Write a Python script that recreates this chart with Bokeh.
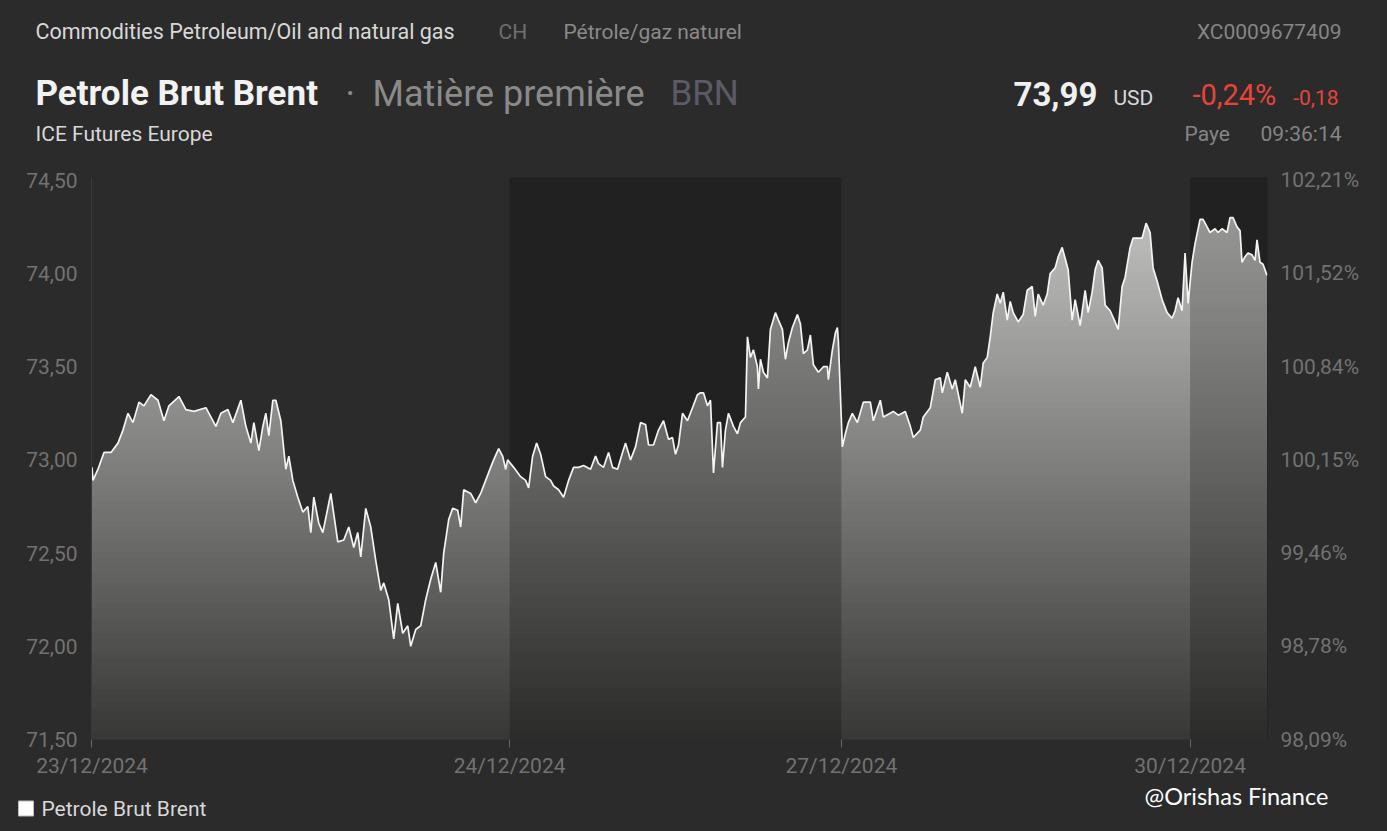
import numpy as np
from bokeh.plotting import figure
from bokeh.layouts import column
from bokeh.models import Range1d, LinearAxis, FixedTicker, GlobalInlineStyleSheet
from bokeh.core.properties import value
from bokeh.embed import file_html
from bokeh.resources import INLINE

# ---------------- data ----------------
day_labels = ["23/12/2024", "24/12/2024", "27/12/2024", "30/12/2024"]
day_start_bar = [0, 418, 750, 1099]

bar_23 = [0, 1, 6, 12, 19, 26, 31, 36, 41, 47, 52, 59, 66, 72, 77, 87, 94, 102, 114, 124,
          129, 136, 141, 149, 154, 159, 162, 167, 171, 174, 177, 181, 184, 189, 194, 197, 201,
          206, 211, 216, 219, 222, 227, 231, 239, 246, 252, 257, 262, 266, 269, 274, 279, 284,
          289, 292, 297, 302, 306, 311, 316, 319, 324, 329, 334, 339, 344, 349, 352, 357, 361,
          366, 369, 372, 379, 384, 389, 394, 399, 402, 407, 411, 414, 416]
price_23 = [72.96, 72.89, 72.95, 73.04, 73.04, 73.09, 73.16, 73.25, 73.20, 73.31, 73.29, 73.35,
            73.32, 73.21, 73.29, 73.34, 73.27, 73.26, 73.28, 73.18, 73.25, 73.27, 73.20, 73.32,
            73.18, 73.09, 73.20, 73.05, 73.18, 73.25, 73.13, 73.32, 73.32, 73.21, 72.95, 73.02,
            72.89, 72.80, 72.72, 72.75, 72.61, 72.80, 72.66, 72.61, 72.82, 72.56, 72.57, 72.64,
            72.53, 72.61, 72.48, 72.74, 72.64, 72.46, 72.30, 72.34, 72.25, 72.04, 72.23, 72.07,
            72.11, 72.00, 72.09, 72.11, 72.25, 72.36, 72.45, 72.29, 72.50, 72.68, 72.74, 72.73,
            72.64, 72.84, 72.82, 72.77, 72.82, 72.89, 72.96, 73.00, 73.06, 73.02, 72.95, 73.00]

bar_24 = [422, 429, 434, 437, 441, 445, 449, 454, 459, 462, 467, 472, 477, 482, 487, 492, 499,
          504, 507, 512, 517, 521, 526, 531, 534, 539, 544, 549, 554, 557, 562, 567, 572, 577,
          581, 584, 587, 591, 596, 601, 606, 609, 612, 616, 619, 622, 626, 629, 631, 634, 637,
          642, 646, 649, 654, 656, 659, 662, 666, 667, 669, 672, 676, 679, 684, 687, 691, 694,
          697, 701, 706, 709, 712, 716, 719, 722, 727, 732, 736, 737, 741, 744, 746, 747]
price_24 = [72.96, 72.91, 72.89, 72.85, 73.02, 73.09, 73.03, 72.91, 72.89, 72.86, 72.84, 72.80,
            72.89, 72.96, 72.96, 72.97, 72.95, 73.02, 72.98, 72.96, 73.04, 72.96, 72.95, 73.04,
            73.09, 73.00, 73.07, 73.20, 73.19, 73.08, 73.08, 73.16, 73.21, 73.11, 73.12, 73.03,
            73.08, 73.25, 73.21, 73.28, 73.35, 73.36, 73.36, 73.29, 73.32, 72.93, 73.20, 73.20,
            72.96, 73.16, 73.25, 73.18, 73.14, 73.20, 73.23, 73.66, 73.55, 73.59, 73.50, 73.38,
            73.54, 73.47, 73.44, 73.70, 73.79, 73.75, 73.70, 73.54, 73.63, 73.71, 73.78, 73.73,
            73.57, 73.59, 73.67, 73.51, 73.47, 73.50, 73.50, 73.43, 73.59, 73.68, 73.71, 73.64]

bar_27 = [751, 754, 757, 761, 766, 772, 779, 782, 789, 792, 802, 807, 814, 819, 822, 829, 832,
          839, 844, 849, 851, 856, 861, 864, 871, 874, 879, 884, 889, 892, 896, 899, 902, 906,
          909, 912, 916, 919, 922, 927, 932, 936, 941, 944, 947, 952, 956, 959, 964, 967, 971,
          974, 977, 981, 984, 989, 994, 997, 1001, 1004, 1007, 1011, 1014, 1019, 1024, 1027,
          1031, 1034, 1039, 1042, 1047, 1051, 1055, 1059, 1062, 1066, 1071, 1076, 1081, 1084,
          1087, 1091, 1094, 1097]
price_27 = [73.07, 73.14, 73.20, 73.25, 73.20, 73.31, 73.31, 73.21, 73.32, 73.23, 73.26, 73.24,
            73.26, 73.18, 73.12, 73.16, 73.23, 73.28, 73.43, 73.44, 73.36, 73.47, 73.38, 73.43,
            73.25, 73.43, 73.39, 73.50, 73.39, 73.52, 73.55, 73.66, 73.79, 73.89, 73.84, 73.90,
            73.75, 73.85, 73.79, 73.74, 73.78, 73.91, 73.93, 73.77, 73.89, 73.83, 73.89, 74.00,
            74.03, 74.09, 74.14, 74.08, 74.02, 73.75, 73.86, 73.72, 73.91, 73.79, 73.90, 74.02,
            74.07, 74.03, 73.83, 73.80, 73.74, 73.70, 73.93, 73.98, 74.14, 74.19, 74.19, 74.19,
            74.27, 74.22, 74.03, 73.96, 73.86, 73.79, 73.76, 73.80, 73.87, 73.80, 74.11, 73.84]

bar_30 = [1101, 1104, 1109, 1112, 1116, 1119, 1124, 1127, 1131, 1136, 1139, 1142, 1146, 1149,
          1151, 1154, 1157, 1161, 1164, 1166, 1169, 1172, 1176]
price_30 = [74.06, 74.16, 74.29, 74.29, 74.25, 74.22, 74.24, 74.22, 74.24, 74.22, 74.30, 74.30,
            74.25, 74.23, 74.06, 74.09, 74.11, 74.10, 74.07, 74.18, 74.06, 74.05, 73.99]

price_ticks = [71.5, 72.0, 72.5, 73.0, 73.5, 74.0, 74.5]
price_tick_labels = ["71,50", "72,00", "72,50", "73,00", "73,50", "74,00", "74,50"]
pct_tick_labels = ["98,09%", "98,78%", "99,46%", "100,15%", "100,84%", "101,52%", "102,21%"]

bar = bar_23 + bar_24 + bar_27 + bar_30
price = price_23 + price_24 + price_27 + price_30
assert len(bar) == len(price)

# ---------------- layout / style ----------------
BG = "#2b2b2b"
W = 1387
HEAD_H = 150           # header strip
MAIN_H = 630           # chart strip (page y 150..780)
FOOT_H = 51            # footer strip (page y 780..831)
FRAME_TOP, FRAME_BOTTOM = 177, 740   # page pixels
FRAME_LEFT, FRAME_RIGHT = 91, 1267
Y0, Y1 = 71.5, 74.515
AXIS_COLOR = "#727272"


def strip(height):
    f = figure(width=W, height=height, output_backend="svg", toolbar_location=None,
               x_range=Range1d(0, W), y_range=Range1d(height, 0),
               x_axis_type=None, y_axis_type=None,
               min_border=0, min_border_left=0, min_border_right=0,
               min_border_top=0, min_border_bottom=0,
               background_fill_color=BG, border_fill_color=BG, outline_line_color=None)
    f.grid.visible = False
    f.frame_align = False
    return f


def txt(f, s, x, y, size, color, align="left", style="normal", font="Roboto"):
    f.text(x=[x], y=[y], text=[s], text_font=value(font), text_font_size=f"{size}px",
           text_color=color, text_align=align, text_baseline="middle",
           text_font_style=style)


# ---- header ----
head = strip(HEAD_H)
txt(head, "Commodities Petroleum/Oil and natural gas", 35, 31, 21.5, "#d8d8d8")
txt(head, "CH", 498, 31, 21, "#6f6f6f")
txt(head, "Pétrole/gaz naturel", 563, 31, 21, "#8a8a8a")
txt(head, "XC0009677409", 1341, 31, 21, "#858585", align="right")
txt(head, "Petrole Brut Brent", 35, 93, 35, "#f2f2f2", style="bold")
txt(head, "·", 345, 93, 36, "#8a8a8a")
txt(head, "Matière première", 372, 93, 36, "#8a8a8a")
txt(head, "BRN", 670, 93, 35, "#5c5a68")
txt(head, "73,99", 1013, 93, 33, "#f0f0f0", style="bold")
txt(head, "USD", 1113, 97, 21, "#d8d8d8")
txt(head, "-0,24%", 1192, 94, 29, "#e8433a")
txt(head, "-0,18", 1338, 97, 21, "#e8433a", align="right")
txt(head, "ICE Futures Europe", 35, 133, 21, "#d8d8d8")
txt(head, "Paye", 1184, 133, 21, "#858585")
txt(head, "09:36:14", 1341, 133, 21, "#858585", align="right")
head.stylesheets = [GlobalInlineStyleSheet(css="html, body { background-color: #2b2b2b; }")]

# ---- chart ----
p = figure(width=W, height=MAIN_H, output_backend="svg", toolbar_location=None,
           x_range=Range1d(bar[0] - 0.5, bar[-1] + 0.5), y_range=Range1d(Y0, Y1),
           min_border_left=FRAME_LEFT, min_border_right=W - FRAME_RIGHT,
           min_border_top=FRAME_TOP - HEAD_H,
           min_border_bottom=HEAD_H + MAIN_H - FRAME_BOTTOM,
           background_fill_color=BG, border_fill_color=BG, outline_line_color=None)
p.grid.visible = False
p.frame_align = False

# gradient fill under the curve: stacked bands, then a mask above the curve
n = 90
levels = np.linspace(Y0, Y1, n, endpoint=False)
cols = []
for lv in levels:
    t = (lv - Y0) / (Y1 - Y0)
    g = int(round(56 + t * (202 - 56)))
    cols.append("#%02x%02x%02x" % (g, g, max(g - 2, 0)))
p.quad(left=bar[0], right=bar[-1], bottom=Y0 - 0.05, top=Y1 - 0.012,
       fill_color=cols[0], line_color=None)
p.quad(left=bar[0], right=bar[-1], bottom=levels[1:], top=Y1 - 0.012,
       fill_color=cols[1:], line_color=None)
mask_x = [bar[0] - 20] + bar + [bar[-1] + 20]
mask_y = [price[0]] + price + [Y0 - 1]
p.varea(x=mask_x, y1=mask_y, y2=Y1 + 1, fill_color=BG)

# darker session bands (alternate days)
band_left, band_right = [], []
ends = day_start_bar[1:] + [bar[-1] + 20]
for i, (s, e) in enumerate(zip(day_start_bar, ends)):
    if i % 2 == 1:
        band_left.append(s)
        band_right.append(e)
p.quad(left=band_left, right=band_right, bottom=Y0 - 1, top=Y1 + 1,
       fill_color="black", fill_alpha=0.21, line_color=None)

p.line(bar, price, line_color="#f4f4f4", line_width=1.7)

xa = p.xaxis[0]
xa.ticker = FixedTicker(ticks=day_start_bar)
xa.major_label_overrides = {b: l for b, l in zip(day_start_bar, day_labels)}
xa.axis_line_color = None
xa.major_tick_line_color = "#666666"
xa.major_tick_in = 0
xa.major_tick_out = 8
xa.minor_tick_line_color = None
xa.major_label_standoff = 6
xa.major_label_text_color = AXIS_COLOR
xa.major_label_text_font = "Roboto"
xa.major_label_text_font_size = "21px"

ya = p.yaxis[0]
ya.ticker = FixedTicker(ticks=price_ticks)
ya.major_label_overrides = {t: l for t, l in zip(price_ticks, price_tick_labels)}
ya.axis_line_color = "#3a3a3a"
ya.major_tick_line_color = None
ya.minor_tick_line_color = None
ya.major_tick_in = 0
ya.major_tick_out = 0
ya.major_label_standoff = 14
ya.major_label_text_color = AXIS_COLOR
ya.major_label_text_font = "Roboto"
ya.major_label_text_font_size = "21px"

ra = LinearAxis(ticker=FixedTicker(ticks=price_ticks))
ra.major_label_overrides = {t: l for t, l in zip(price_ticks, pct_tick_labels)}
ra.axis_line_color = None
ra.major_tick_line_color = None
ra.minor_tick_line_color = None
ra.major_tick_in = 0
ra.major_tick_out = 0
ra.major_label_standoff = 13
ra.major_label_text_color = AXIS_COLOR
ra.major_label_text_font = "Roboto"
ra.major_label_text_font_size = "21px"
p.add_layout(ra, "right")

# ---- footer ----
foot = strip(FOOT_H)
foot.rect(x=[25.5], y=[808 - 780], width=15, height=15, fill_color="#ffffff",
          line_color="#bdbdbd", line_width=1)
txt(foot, "Petrole Brut Brent", 41, 808 - 780, 21, "#d8d8d8")
txt(foot, "@Orishas Finance", 1144, 795 - 780, 23.5, "#ffffff", font="Lato")

layout = column(head, p, foot, spacing=0)
open("out.html", "w").write(file_html(layout, INLINE))
